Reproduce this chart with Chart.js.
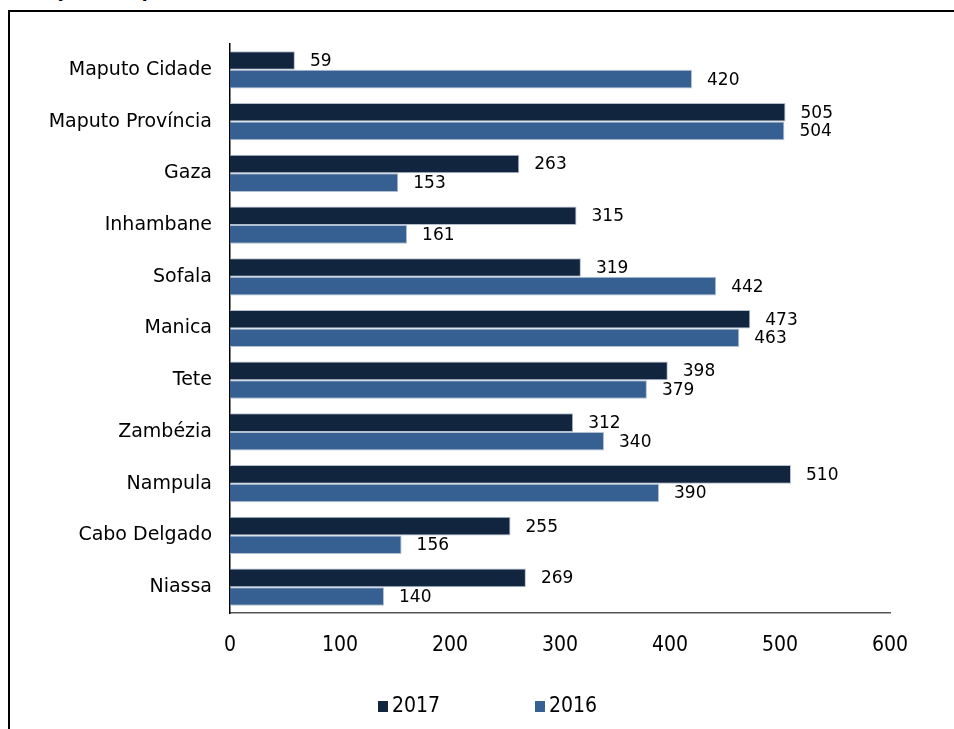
<!DOCTYPE html>
<html>
<head>
<meta charset="utf-8">
<script src="https://cdn.jsdelivr.net/npm/chart.js@4.4.1/dist/chart.umd.min.js"></script>
<style>
  body { margin: 0; background: #fff; }
  #wrap { position: relative; width: 954px; height: 729px; overflow: hidden; }
  #frameTop { position: absolute; left: 8px; top: 10px; width: 946px; height: 2px; background: #000; }
  #frameLeft { position: absolute; left: 8px; top: 10px; width: 2px; height: 719px; background: #000; }
  #cutTitle { position: absolute; left: 45px; top: -19px; font: bold 17px "DejaVu Sans", sans-serif; color: #000; white-space: nowrap; }
  canvas { position: absolute; left: 0; top: 0; }
</style>
</head>
<body>
<div id="wrap">
  <div id="cutTitle">by sexo e província</div>
  <div id="frameTop"></div>
  <div id="frameLeft"></div>
  <canvas id="barChart" width="954" height="729"></canvas>
</div>
<script>
// provinces, top to bottom
var provinces = ["Maputo Cidade", "Maputo Província", "Gaza", "Inhambane", "Sofala", "Manica", "Tete", "Zambézia", "Nampula", "Cabo Delgado", "Niassa"];
var values2017 = [59, 505, 263, 315, 319, 473, 398, 312, 510, 255, 269];
var values2016 = [420, 504, 153, 161, 442, 463, 379, 340, 390, 156, 140];
var seriesNames = ["2017", "2016"];
var seriesColors = ["#12253f", "#376092"];

// value labels at the end of each bar
var barLabels = {
  id: "barLabels",
  afterDatasetsDraw(chart) {
    const ctx = chart.ctx;
    ctx.save();
    ctx.font = "17px 'DejaVu Sans'";
    ctx.fillStyle = "#000";
    ctx.textAlign = "left";
    ctx.textBaseline = "middle";
    chart.data.datasets.forEach((ds, i) => {
      chart.getDatasetMeta(i).data.forEach((bar, j) => {
        ctx.fillText(ds.data[j], bar.x + 15, bar.y + 1);
      });
    });
    ctx.restore();
  },
};

// legend at the bottom, drawn by hand to get the wide gap
var bottomLegend = {
  id: "bottomLegend",
  afterDraw(chart) {
    const ctx = chart.ctx;
    const xs = [378, 535];
    const y = 707;
    ctx.save();
    ctx.font = "21px 'DejaVu Sans Condensed'";
    ctx.textBaseline = "middle";
    ctx.textAlign = "left";
    seriesNames.forEach((name, i) => {
      ctx.fillStyle = seriesColors[i];
      ctx.fillRect(xs[i], y - 6, 10, 11);
      ctx.fillStyle = "#000";
      ctx.fillText(name, xs[i] + 14, y);
    });
    ctx.restore();
  },
};

new Chart(document.getElementById("barChart").getContext("2d"), {
  type: "bar",
  data: {
    labels: provinces,
    datasets: [
      {
        label: seriesNames[0],
        data: values2017,
        backgroundColor: seriesColors[0],
        borderColor: "rgba(170,185,205,0.9)",
        borderWidth: 1,
        categoryPercentage: 0.72,
        barPercentage: 1.0,
      },
      {
        label: seriesNames[1],
        data: values2016,
        backgroundColor: seriesColors[1],
        borderColor: "rgba(170,185,205,0.9)",
        borderWidth: 1,
        categoryPercentage: 0.72,
        barPercentage: 1.0,
      },
    ],
  },
  options: {
    indexAxis: "y",
    responsive: false,
    animation: false,
    devicePixelRatio: 1,
    layout: {
      padding: { left: 0, right: 64, top: 44, bottom: 66 },
    },
    plugins: {
      legend: { display: false },
      tooltip: { enabled: false },
    },
    scales: {
      x: {
        min: 0,
        max: 600,
        ticks: {
          stepSize: 100,
          padding: 20,
          color: "#000",
          font: { family: "DejaVu Sans Condensed", size: 21 },
        },
        grid: { display: false, drawTicks: false },
        border: { display: true, color: "#555", width: 1.5 },
        afterFit(scale) {
          scale.height = 50;
        },
      },
      y: {
        ticks: {
          padding: 18,
          color: "#000",
          font: { family: "DejaVu Sans", size: 19 },
        },
        grid: { display: false, drawTicks: false },
        border: { display: true, color: "#000", width: 1.5 },
        afterFit(scale) {
          scale.width = 230;
        },
      },
    },
  },
  plugins: [barLabels, bottomLegend],
});
</script>
</body>
</html>
